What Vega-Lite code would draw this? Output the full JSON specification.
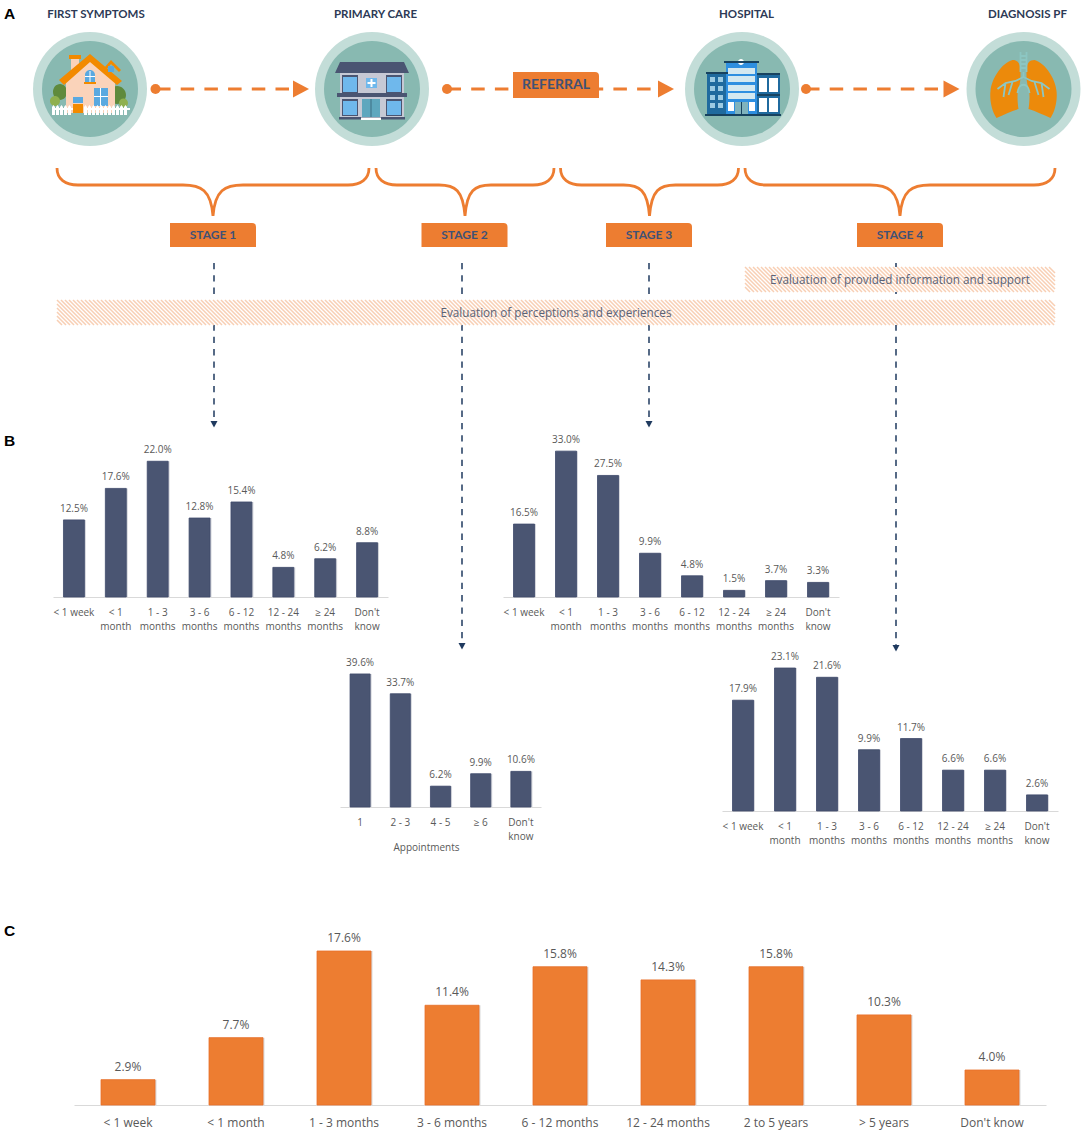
{
"$schema":"https://vega.github.io/schema/vega-lite/v6.json",
"width":1084,"height":1131,"padding":0,"autosize":{"type":"none"},"background":"white",
"config":{"view":{"stroke":null}},
"datasets":{
"house":[{"node":"First symptoms","x":90,"y":89}],
"clinic":[{"node":"Primary care","x":372,"y":89}],
"hospital":[{"node":"Hospital","x":742,"y":89}],
"lungs":[{"node":"Diagnosis PF","x":1023.5,"y":89}],
"nodes":[{"node":"First symptoms","x":90,"y":89},{"node":"Primary care","x":372,"y":89},{"node":"Hospital","x":742,"y":89},{"node":"Diagnosis PF","x":1023.5,"y":89}],
"arrows":[{"x":157,"x2":293,"y":89},{"x":447.5,"x2":658,"y":89},{"x":806,"x2":943,"y":89}],
"starts":[{"x":155.5,"y":89},{"x":447,"y":89},{"x":806,"y":89}],
"heads":[{"x":301,"y":89},{"x":666,"y":89},{"x":951.5,"y":89}],
"stages":[{"x":213,"y":235,"text":"STAGE 1"},{"x":464.5,"y":235,"text":"STAGE 2"},{"x":649,"y":235,"text":"STAGE 3"},{"x":900,"y":235,"text":"STAGE 4"}],
"drops":[{"x":214,"y":263,"y2":421},{"x":462,"y":263,"y2":643},{"x":649,"y":263,"y2":421},{"x":896,"y":263,"y2":645}],
"dropHeads":[{"x":214,"y":424},{"x":462,"y":646},{"x":649,"y":424},{"x":896,"y":648}],
"bands":[{"x":745,"x2":1055,"y":267,"y2":292},{"x":57,"x2":1055,"y":300,"y2":325}],
"hatchLong":[{"x":745,"y":279.5},{"x":825,"y":279.5},{"x":905,"y":279.5},{"x":57,"y":312.5},{"x":137,"y":312.5},{"x":217,"y":312.5},{"x":297,"y":312.5},{"x":377,"y":312.5},{"x":457,"y":312.5},{"x":537,"y":312.5},{"x":617,"y":312.5},{"x":697,"y":312.5},{"x":777,"y":312.5},{"x":857,"y":312.5},{"x":937,"y":312.5}],
"hatchShort":[{"x":985,"y":279.5},{"x":1001,"y":279.5},{"x":1017,"y":279.5},{"x":1017,"y":312.5}],
"hatchLeft":[{"x":745,"y":279.5},{"x":57,"y":312.5}],
"hatchRight":[{"x":1055,"y":279.5},{"x":1055,"y":312.5}],
"b1":[{"d":"< 1 week","share":0.125},{"d":"< 1 month","share":0.176},{"d":"1 - 3 months","share":0.22},{"d":"3 - 6 months","share":0.128},{"d":"6 - 12 months","share":0.154},{"d":"12 - 24 months","share":0.048},{"d":"≥ 24 months","share":0.062},{"d":"Don't know","share":0.088}],
"b3":[{"d":"< 1 week","share":0.165},{"d":"< 1 month","share":0.33},{"d":"1 - 3 months","share":0.275},{"d":"3 - 6 months","share":0.099},{"d":"6 - 12 months","share":0.048},{"d":"12 - 24 months","share":0.015},{"d":"≥ 24 months","share":0.037},{"d":"Don't know","share":0.033}],
"b2":[{"d":"1","share":0.396},{"d":"2 - 3","share":0.337},{"d":"4 - 5","share":0.062},{"d":"≥ 6","share":0.099},{"d":"Don't know","share":0.106}],
"b4":[{"d":"< 1 week","share":0.179},{"d":"< 1 month","share":0.231},{"d":"1 - 3 months","share":0.216},{"d":"3 - 6 months","share":0.099},{"d":"6 - 12 months","share":0.117},{"d":"12 - 24 months","share":0.066},{"d":"≥ 24 months","share":0.066},{"d":"Don't know","share":0.026}],
"c":[{"d":"< 1 week","share":0.029},{"d":"< 1 month","share":0.077},{"d":"1 - 3 months","share":0.176},{"d":"3 - 6 months","share":0.114},{"d":"6 - 12 months","share":0.158},{"d":"12 - 24 months","share":0.143},{"d":"2 to 5 years","share":0.158},{"d":"> 5 years","share":0.103},{"d":"Don't know","share":0.04}]
},
"resolve":{"scale":{"x":"independent","y":"independent"},"axis":{"x":"independent","y":"independent"}},
"layer":[
{"encoding":{"x":{"field":"x","type":"quantitative","scale":{"domain":[0,1084],"range":[0,1084]},"axis":null},"y":{"field":"y","type":"quantitative","scale":{"domain":[0,1131],"range":[0,1131]},"axis":null}},
"layer":[
{"data":{"name":"nodes"},"mark":{"type":"point","shape":"circle","size":12996,"filled":true,"fill":"#C3DDD8","strokeWidth":0,"opacity":1}},
{"data":{"name":"nodes"},"mark":{"type":"point","shape":"circle","size":9216,"filled":true,"fill":"#88B9B1","strokeWidth":0,"opacity":1}},

{"data":{"name":"house"},"mark":{"type":"point","size":4,"filled":true,"opacity":1,"strokeWidth":0,"fill":"#5F8A3C","shape":"M-37 3a7 8 0 1 0 14 0a7 8 0 1 0 -14 0ZM18 6a9 9 0 1 0 18 0a9 9 0 1 0 -18 0Z"}},
{"data":{"name":"house"},"mark":{"type":"point","size":4,"filled":true,"opacity":1,"strokeWidth":0,"fill":"#8FB04F","shape":"M-40 12a5 5 0 1 0 10 0a5 5 0 1 0 -10 0ZM29 14a4.500 4.500 0 1 0 9 0a4.500 4.500 0 1 0 -9 0Z"}},
{"data":{"name":"house"},"mark":{"type":"point","size":4,"filled":true,"opacity":1,"strokeWidth":0,"fill":"#FAD3BA","shape":"M-24 -9L0 -29L25 -9V24H-24ZM-19 -30H-11V-18H-19Z"}},
{"data":{"name":"house"},"mark":{"type":"point","size":4,"filled":true,"opacity":1,"strokeWidth":0,"fill":"#F28A00","shape":"M0 -35L32 -8L27 -4L0 -27L-26 -4L-31 -9ZM-21 -34H-9V-30H-21ZM14 -21L21 -29L31 -19L29 -17L21 -25L16 -19ZM-17 15H-7V24H-17ZM-6 -7H6V-5H-6Z"}},
{"data":{"name":"house"},"mark":{"type":"point","size":4,"filled":true,"opacity":1,"strokeWidth":0,"fill":"#5AA9E0","shape":"M-5 -7V-14A5 5 0 0 1 5 -14V-7ZM4 -1H18V17H4ZM-17 8H-7V14H-17ZM18 -23H24V-17H18Z"}},
{"data":{"name":"house"},"mark":{"type":"point","size":4,"filled":true,"opacity":1,"strokeWidth":0,"fill":"#FFFFFF","shape":"M10 -1H11V17H10ZM4 7H18V8H4ZM-0.500 -18H0.500V-7H-0.500ZM-5 -13H5V-12H-5ZM-38 19H-17V21H-38ZM-6 19H40V21H-6ZM-38 26V18L-36.500 16L-35 18V26ZM-34 26V18L-32.500 16L-31 18V26ZM-30 26V18L-28.500 16L-27 18V26ZM-26 26V18L-24.500 16L-23 18V26ZM-22 26V18L-20.500 16L-19 18V26ZM-6 26V18L-4.500 16L-3 18V26ZM-2 26V18L-0.500 16L1 18V26ZM2 26V18L3.500 16L5 18V26ZM6 26V18L7.500 16L9 18V26ZM10 26V18L11.500 16L13 18V26ZM14 26V18L15.500 16L17 18V26ZM18 26V18L19.500 16L21 18V26ZM22 26V18L23.500 16L25 18V26ZM26 26V18L27.500 16L29 18V26ZM30 26V18L31.500 16L33 18V26ZM34 26V18L35.500 16L37 18V26Z"}},

{"data":{"name":"clinic"},"mark":{"type":"point","size":4,"filled":true,"opacity":1,"strokeWidth":0,"fill":"#C6C9D5","shape":"M-32 -16H32V29H-32Z"}},
{"data":{"name":"clinic"},"mark":{"type":"point","size":4,"filled":true,"opacity":1,"strokeWidth":0,"fill":"#4A5572","shape":"M-32 -27H32L37 -16H-37ZM-35 4H35V8H-35ZM-33 28H33V30.500H-33ZM-30 -14H-14V4H-30ZM14 -14H30V4H14ZM-30 10H-14V27H-30ZM14 10H30V27H14Z"}},
{"data":{"name":"clinic"},"mark":{"type":"point","size":4,"filled":true,"opacity":1,"strokeWidth":0,"fill":"#6FB8EC","shape":"M-29 -12H-15V3H-29ZM15 -12H29V3H15ZM-29 12H-15V26H-29ZM15 12H29V26H15ZM-6 -11H5V-1H-6Z"}},
{"data":{"name":"clinic"},"mark":{"type":"point","size":4,"filled":true,"opacity":1,"strokeWidth":0,"fill":"#5EA7BE","shape":"M-10 10H8V28H-10Z"}},
{"data":{"name":"clinic"},"mark":{"type":"point","size":4,"filled":true,"opacity":1,"strokeWidth":0,"fill":"#FFFFFF","shape":"M-1.500 -10H0.500V-7H3.500V-5H0.500V-2H-1.500V-5H-4.500V-7H-1.500ZM-11 28.500H9V31H-11Z"}},
{"data":{"name":"clinic"},"mark":{"type":"point","size":4,"filled":true,"opacity":1,"strokeWidth":0,"fill":"#3C6E82","shape":"M-1.500 10H-0.500V28H-1.500Z"}},

{"data":{"name":"hospital"},"mark":{"type":"point","size":4,"filled":true,"opacity":1,"strokeWidth":0,"fill":"#1F6A9E","shape":"M-35 -16H-14V26H-35ZM15 -15H38V26H15Z"}},
{"data":{"name":"hospital"},"mark":{"type":"point","size":4,"filled":true,"opacity":1,"strokeWidth":0,"fill":"#2E8FE0","shape":"M-16 -26H15V26H-16Z"}},
{"data":{"name":"hospital"},"mark":{"type":"point","size":4,"filled":true,"opacity":1,"strokeWidth":0,"fill":"#9CCBE3","shape":"M-32 -12H-27V-7H-32ZM-24 -12H-19V-7H-24ZM-32 -3H-27V2H-32ZM-24 -3H-19V2H-24ZM-32 6H-27V11H-32ZM-24 6H-19V11H-24ZM-32 14H-27V19H-32ZM-24 14H-19V19H-24Z"}},
{"data":{"name":"hospital"},"mark":{"type":"point","size":4,"filled":true,"opacity":1,"strokeWidth":0,"fill":"#D3E8F0","shape":"M-14 -21H13V-15H-14ZM-14 -13H13V-7H-14ZM-14 -4H13V2H-14ZM-14 4H13V10H-14Z"}},
{"data":{"name":"hospital"},"mark":{"type":"point","size":4,"filled":true,"opacity":1,"strokeWidth":0,"fill":"#FFFFFF","shape":"M-14 13H-8V22H-14ZM7 13H13V22H7ZM17 -11H25V3H17ZM27 -11H36V3H27ZM17 9H25V23H17ZM27 9H36V23H27ZM-4 -27a3 3 0 1 0 6 0a3 3 0 1 0 -6 0Z"}},
{"data":{"name":"hospital"},"mark":{"type":"point","size":4,"filled":true,"opacity":1,"strokeWidth":0,"fill":"#7FB3BD","shape":"M-7 13H6V26H-7Z"}},
{"data":{"name":"hospital"},"mark":{"type":"point","size":4,"filled":true,"opacity":1,"strokeWidth":0,"fill":"#17425F","shape":"M-18 -28H17V-26H-18ZM15 -16H38V-14H15ZM15 5H38V7H15ZM-36 -17H-14V-15H-36ZM-37 25H39V27H-37ZM-1 13H0V26H-1Z"}},

{"data":{"name":"lungs"},"mark":{"type":"point","size":4,"filled":true,"opacity":1,"strokeWidth":0,"fill":"#EC8A0B","shape":"M-11 -29C-6 -29 -3 -26 -3 -18V-10L-4 -4C-7 2 -6 14 -5 20C-12 22 -20 26 -27 29C-32 22 -34 10 -33 2C-32 -10 -22 -26 -11 -29ZM11 -29C6 -29 3 -26 3 -18V-10L4 -4C7 2 6 14 5 20C12 22 20 26 27 29C32 22 34 10 33 2C32 -10 22 -26 11 -29Z"}},
{"data":{"name":"lungs"},"mark":{"type":"point","size":4,"filled":false,"opacity":1,"strokeWidth":1.800,"stroke":"#8CC6C2","shape":"M-3 -37V-17M3 -37V-17M-3 -33H3M-3 -29H3M-3 -25H3M-3 -21H3M0 -17V-12M0 -12L-8 -8L-18 -6L-26 0M-18 -6L-20 8M-11 -7L-15 6M0 -12L8 -8L18 -6L26 0M18 -6L20 8M11 -7L15 6M-6 4C-5 -7 5 -7 6 4"}},

{"data":{"name":"arrows"},"mark":{"type":"rule","stroke":"#ED7D31","strokeWidth":3,"strokeDash":[13.5,10.2]},"encoding":{"x2":{"field":"x2"}}},
{"data":{"name":"starts"},"mark":{"type":"point","shape":"circle","size":100,"filled":true,"fill":"#ED7D31","strokeWidth":0,"opacity":1}},
{"data":{"name":"heads"},"mark":{"type":"point","size":4,"filled":true,"opacity":1,"strokeWidth":0,"fill":"#ED7D31","shape":"M-8 -8.500L8 0L-8 8.500Z"}},
{"data":{"values":[{"x":556,"y":85}]},"mark":{"type":"point","size":4,"filled":true,"opacity":1,"strokeWidth":0,"fill":"#ED7D31","shape":"M-43 -13H39Q43 -13 43 -9V13H-43Z"}},
{"data":{"values":[{"x":213,"y":168}]},"mark":{"type":"point","size":4,"filled":false,"opacity":1,"strokeWidth":2.800,"stroke":"#ED7D31","shape":"M-156 0C-156 11 -148 17 -135 17H-30C-12 17 -2 22 0 48C2 22 12 17 30 17H135C148 17 156 11 156 0"}},
{"data":{"values":[{"x":900,"y":168}]},"mark":{"type":"point","size":4,"filled":false,"opacity":1,"strokeWidth":2.800,"stroke":"#ED7D31","shape":"M-155 0C-155 11 -147 17 -134 17H-30C-12 17 -2 22 0 48C2 22 12 17 30 17H134C147 17 155 11 155 0"}},
{"data":{"values":[{"x":465,"y":168},{"x":649.5,"y":168}]},"mark":{"type":"point","size":4,"filled":false,"opacity":1,"strokeWidth":2.800,"stroke":"#ED7D31","shape":"M-89 0C-89 11 -81 17 -68 17H-26C-10 17 -2 22 0 48C2 22 10 17 26 17H68C81 17 89 11 89 0"}},
{"data":{"name":"stages"},"mark":{"type":"point","size":4,"filled":true,"opacity":1,"strokeWidth":0,"fill":"#ED7D31","shape":"M-43 -12H39Q43 -12 43 -8V12H-43Z"}},
{"data":{"name":"stages"},"mark":{"type":"text","font":"Lato","fontWeight":"bold","fontSize":12,"fill":"#3F5276","align":"center","baseline":"middle"},"encoding":{"text":{"field":"text"}}},
{"data":{"name":"drops"},"mark":{"type":"rule","stroke":"#1F3A5F","strokeWidth":1.500,"strokeDash":[6.3,6]},"encoding":{"y2":{"field":"y2"}}},
{"data":{"name":"dropHeads"},"mark":{"type":"point","size":4,"filled":true,"opacity":1,"strokeWidth":0,"fill":"#1F3A5F","shape":"M-3.500 -3H3.500L0 3.500Z"}},
{"data":{"name":"bands"},"mark":{"type":"rect","fill":"#FFFFFF"},"encoding":{"x2":{"field":"x2"},"y2":{"field":"y2"}}},
{"data":{"name":"hatchLong"},"mark":{"type":"point","size":4,"filled":false,"opacity":1,"strokeWidth":1.500,"stroke":"#F8CFB4","shape":"M0 -12.5L25 12.5m-21-25l25 25m-21-25l25 25m-21-25l25 25m-21-25l25 25m-21-25l25 25m-21-25l25 25m-21-25l25 25m-21-25l25 25m-21-25l25 25m-21-25l25 25m-21-25l25 25m-21-25l25 25m-21-25l25 25m-21-25l25 25m-21-25l25 25m-21-25l25 25m-21-25l25 25m-21-25l25 25m-21-25l25 25"}},
{"data":{"name":"hatchShort"},"mark":{"type":"point","size":4,"filled":false,"opacity":1,"strokeWidth":1.500,"stroke":"#F8CFB4","shape":"M0 -12.5L25 12.5m-21-25l25 25m-21-25l25 25m-21-25l25 25"}},
{"data":{"name":"hatchLeft"},"mark":{"type":"point","size":4,"filled":false,"opacity":1,"strokeWidth":1.500,"stroke":"#F8CFB4","shape":"M0 -8.5L21 12.5M0 -4.5L17 12.5M0 -0.5L13 12.5M0 3.5L9 12.5M0 7.5L5 12.5"}},
{"data":{"name":"hatchRight"},"mark":{"type":"point","size":4,"filled":false,"opacity":1,"strokeWidth":1.500,"stroke":"#F8CFB4","shape":"M-22 -12.5L0 9.5M-18 -12.5L0 5.5M-14 -12.5L0 1.5M-10 -12.5L0 -2.5M-6 -12.5L0 -6.5"}},
{"data":{"values":[{"x":556,"y":313,"text":"Evaluation of perceptions and experiences"},{"x":900,"y":280,"text":"Evaluation of provided information and support"}]},"mark":{"type":"text","font":"Open Sans","fontSize":11.700,"fill":"#5A6378","align":"center","baseline":"middle"},"encoding":{"text":{"field":"text"}}},
{"data":{"values":[{"x":96,"y":14.500,"text":"FIRST SYMPTOMS"},{"x":375.500,"y":14.500,"text":"PRIMARY CARE"},{"x":746.500,"y":14.500,"text":"HOSPITAL"},{"x":1027.500,"y":14.500,"text":"DIAGNOSIS PF"}]},"mark":{"type":"text","font":"Lato","fontWeight":"bold","fontSize":11.500,"fill":"#2D3A56","align":"center","baseline":"middle"},"encoding":{"text":{"field":"text"}}},
{"data":{"values":[{"x":556,"y":85,"text":"REFERRAL"}]},"mark":{"type":"text","font":"Lato","fontWeight":"bold","fontSize":14,"fill":"#3F5276","align":"center","baseline":"middle"},"encoding":{"text":{"field":"text"}}},
{"data":{"values":[{"x":4,"y":14,"text":"A"},{"x":4,"y":441,"text":"B"},{"x":4,"y":931,"text":"C"}]},"mark":{"type":"text","font":"Liberation Sans","fontWeight":"bold","fontSize":15.500,"fill":"#000000","align":"left","baseline":"middle"},"encoding":{"text":{"field":"text"}}}
]},

{"data":{"name":"b1"},"encoding":{"x":{"field":"d","type":"nominal","sort":null,"title":null,"scale":{"range":[53,388],"paddingInner":0.5,"paddingOuter":0.25},"axis":{"orient":"bottom","offset":-534,"ticks":false,"domainColor":"#D9D9D9","labelAngle":0,"labelFont":"Open Sans","labelFontSize":10,"labelColor":"#595959","labelPadding":10,"labelLineHeight":14,"labelLimit":0,"labelOverlap":false,"labelExpr":"split(replace(replace(replace(datum.label,' months','|months'),' month','|month'),' know','|know'),'|')","grid":false}},"y":{"field":"share","type":"quantitative","scale":{"domain":[0,0.25],"range":[597,442.75]},"axis":null}},
"layer":[{"mark":{"type":"bar","fill":"#D4D6DC","xOffset":1.5}},{"mark":{"type":"bar","fill":"#4A5572","stroke":"#3F4A6B","strokeWidth":0.8}},{"mark":{"type":"text","font":"Open Sans","fontSize":10,"fill":"#595959","baseline":"middle","dy":-11},"encoding":{"text":{"field":"share","format":".1%"}}}]},

{"data":{"name":"b3"},"encoding":{"x":{"field":"d","type":"nominal","sort":null,"title":null,"scale":{"range":[503,839],"paddingInner":0.5,"paddingOuter":0.25},"axis":{"orient":"bottom","offset":-534,"ticks":false,"domainColor":"#D9D9D9","labelAngle":0,"labelFont":"Open Sans","labelFontSize":10,"labelColor":"#595959","labelPadding":10,"labelLineHeight":14,"labelLimit":0,"labelOverlap":false,"labelExpr":"split(replace(replace(replace(datum.label,' months','|months'),' month','|month'),' know','|know'),'|')","grid":false}},"y":{"field":"share","type":"quantitative","scale":{"domain":[0,0.4],"range":[597,420.2]},"axis":null}},
"layer":[{"mark":{"type":"bar","fill":"#D4D6DC","xOffset":1.5}},{"mark":{"type":"bar","fill":"#4A5572","stroke":"#3F4A6B","strokeWidth":0.8}},{"mark":{"type":"text","font":"Open Sans","fontSize":10,"fill":"#595959","baseline":"middle","dy":-11},"encoding":{"text":{"field":"share","format":".1%"}}}]},

{"data":{"name":"b2"},"encoding":{"x":{"field":"d","type":"nominal","sort":null,"title":"Appointments","scale":{"range":[340,541],"paddingInner":0.5,"paddingOuter":0.25},"axis":{"orient":"bottom","offset":-324,"ticks":false,"domainColor":"#D9D9D9","labelAngle":0,"labelFont":"Open Sans","labelFontSize":10,"labelColor":"#595959","labelPadding":10,"labelLineHeight":14,"labelLimit":0,"labelOverlap":false,"labelExpr":"split(replace(datum.label,' know','|know'),'|')","grid":false,"titleFont":"Open Sans","titleFontSize":10,"titleFontWeight":"normal","titleColor":"#595959","titleX":426,"titleY":40,"titleBaseline":"middle","titleAlign":"center"}},"y":{"field":"share","type":"quantitative","scale":{"domain":[0,0.45],"range":[807,655.8]},"axis":null}},
"layer":[{"mark":{"type":"bar","fill":"#D4D6DC","xOffset":1.5}},{"mark":{"type":"bar","fill":"#4A5572","stroke":"#3F4A6B","strokeWidth":0.8}},{"mark":{"type":"text","font":"Open Sans","fontSize":10,"fill":"#595959","baseline":"middle","dy":-11},"encoding":{"text":{"field":"share","format":".1%"}}}]},

{"data":{"name":"b4"},"encoding":{"x":{"field":"d","type":"nominal","sort":null,"title":null,"scale":{"range":[722,1058],"paddingInner":0.5,"paddingOuter":0.25},"axis":{"orient":"bottom","offset":-320,"ticks":false,"domainColor":"#D9D9D9","labelAngle":0,"labelFont":"Open Sans","labelFontSize":10,"labelColor":"#595959","labelPadding":10,"labelLineHeight":14,"labelLimit":0,"labelOverlap":false,"labelExpr":"split(replace(replace(replace(datum.label,' months','|months'),' month','|month'),' know','|know'),'|')","grid":false}},"y":{"field":"share","type":"quantitative","scale":{"domain":[0,0.25],"range":[811,656.25]},"axis":null}},
"layer":[{"mark":{"type":"bar","fill":"#D4D6DC","xOffset":1.5}},{"mark":{"type":"bar","fill":"#4A5572","stroke":"#3F4A6B","strokeWidth":0.8}},{"mark":{"type":"text","font":"Open Sans","fontSize":10,"fill":"#595959","baseline":"middle","dy":-11},"encoding":{"text":{"field":"share","format":".1%"}}}]},

{"data":{"name":"c"},"encoding":{"x":{"field":"d","type":"nominal","sort":null,"title":null,"scale":{"range":[74,1046],"paddingInner":0.5,"paddingOuter":0.25},"axis":{"orient":"bottom","offset":-26,"ticks":false,"domainColor":"#D9D9D9","labelAngle":0,"labelFont":"Open Sans","labelFontSize":12,"labelColor":"#595959","labelPadding":12,"labelLimit":0,"labelOverlap":false,"grid":false}},"y":{"field":"share","type":"quantitative","scale":{"domain":[0,0.2],"range":[1105,930]},"axis":null}},
"layer":[{"mark":{"type":"bar","fill":"#DADADA","xOffset":1.5}},{"mark":{"type":"bar","fill":"#ED7D31","stroke":"#E8702A","strokeWidth":0.8}},{"mark":{"type":"text","font":"Open Sans","fontSize":12,"fill":"#595959","baseline":"middle","dy":-13},"encoding":{"text":{"field":"share","format":".1%"}}}]}
]
}
